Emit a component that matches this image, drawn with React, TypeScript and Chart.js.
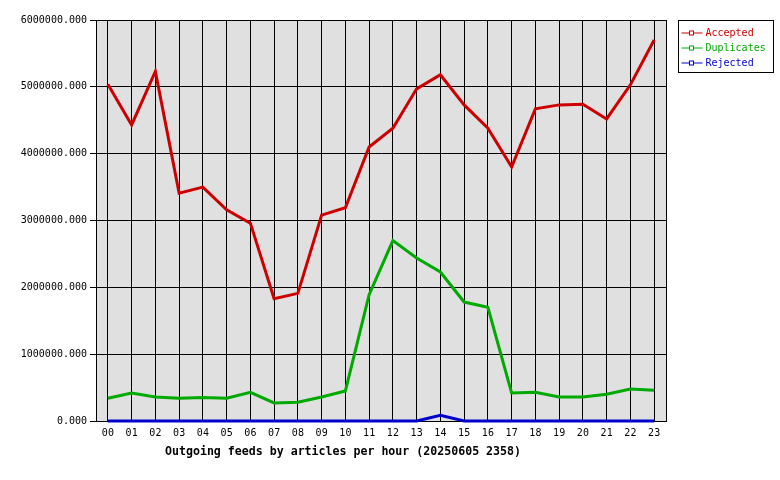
import { useEffect, useRef } from "react";
import Chart from "chart.js/auto";

// hours of the day
const hours = [
    "00", "01", "02", "03", "04", "05", "06", "07", "08", "09", "10", "11",
    "12", "13", "14", "15", "16", "17", "18", "19", "20", "21", "22", "23"
];

const accepted = [
    5040000, 4430000, 5230000, 3410000, 3500000, 3160000, 2960000, 1830000,
    1910000, 3080000, 3190000, 4100000, 4380000, 4970000, 5180000, 4730000,
    4380000, 3800000, 4670000, 4730000, 4740000, 4520000, 5030000, 5700000
];

const duplicates = [
    340000, 420000, 360000, 340000, 350000, 340000, 430000, 270000,
    280000, 360000, 450000, 1890000, 2700000, 2440000, 2230000, 1780000,
    1700000, 420000, 430000, 360000, 360000, 400000, 480000, 460000
];

const rejected = [
    0, 0, 0, 0, 0, 0, 0, 0,
    0, 0, 0, 0, 0, 0, 85000, 0,
    0, 0, 0, 0, 0, 0, 0, 0
];

const yTicks = [0, 1000000, 2000000, 3000000, 4000000, 5000000, 6000000];

const TITLE = "Outgoing feeds by articles per hour (20250605 2358)";
const MONO = "'DejaVu Sans Mono', monospace";

const RED = "#cc0000";
const GREEN = "#00aa00";
const BLUE = "#0000cc";

export default function App() {
    const canvasRef = useRef<HTMLCanvasElement>(null);
    const chartRef = useRef<Chart | null>(null);

    useEffect(() => {
        if (!canvasRef.current) return;
        document.body.style.margin = "0";

        if (chartRef.current) {
            chartRef.current.destroy();
        }

        // gray plot background + black frame (lines are drawn on top of the frame)
        const plotFrame = {
            id: "plotFrame",
            beforeDraw(chart: any) {
                const { ctx, chartArea: a } = chart;
                ctx.save();
                ctx.fillStyle = "#e0e0e0";
                ctx.fillRect(a.left, a.top, a.right - a.left, a.bottom - a.top);
                ctx.restore();
            },
            beforeDatasetsDraw(chart: any) {
                const { ctx, chartArea: a } = chart;
                ctx.save();
                ctx.strokeStyle = "#000";
                ctx.lineWidth = 1;
                ctx.strokeRect(Math.round(a.left) + 0.5, Math.round(a.top) + 0.5,
                    Math.round(a.right - a.left), Math.round(a.bottom - a.top));
                ctx.restore();
            }
        };

        // boxed legend on the right, and the caption below the axis
        const extras = {
            id: "extras",
            afterDraw(chart: any) {
                const { ctx, chartArea: a } = chart;
                const bx = Math.round(a.right) + 12.5;
                const by = Math.round(a.top) + 0.5;
                ctx.save();
                ctx.fillStyle = "#fff";
                ctx.strokeStyle = "#000";
                ctx.lineWidth = 1;
                ctx.fillRect(bx, by, 95, 52);
                ctx.strokeRect(bx, by, 95, 52);
                ctx.font = `10px ${MONO}`;
                ctx.textBaseline = "middle";
                chart.data.datasets.forEach((ds: any, i: number) => {
                    const y = by + 12.5 + i * 15;
                    ctx.strokeStyle = ds.borderColor;
                    ctx.beginPath();
                    ctx.moveTo(bx + 3, y);
                    ctx.lineTo(bx + 24, y);
                    ctx.stroke();
                    ctx.fillStyle = "#fff";
                    ctx.fillRect(bx + 11, y - 2, 4, 4);
                    ctx.strokeRect(bx + 11, y - 2, 4, 4);
                    ctx.fillStyle = ds.borderColor;
                    ctx.fillText(ds.label, bx + 27, y);
                });
                ctx.fillStyle = "#000";
                ctx.font = `bold 11.6px ${MONO}`;
                ctx.textAlign = "center";
                ctx.fillText(TITLE, 343, 452);
                ctx.restore();
            }
        };

        const lineDs = (label: string, data: number[], color: string) => ({
            label,
            data,
            borderColor: color,
            backgroundColor: color,
            borderWidth: 3,
            pointRadius: 0,
            tension: 0,
            clip: false as const,
            borderJoinStyle: "miter" as const,
        });

        chartRef.current = new Chart(canvasRef.current, {
            type: "line",
            data: {
                labels: hours,
                datasets: [
                    lineDs("Accepted", accepted, RED),
                    lineDs("Duplicates", duplicates, GREEN),
                    lineDs("Rejected", rejected, BLUE),
                ],
            },
            options: {
                responsive: false,
                animation: false,
                layout: { padding: { left: 0, top: 20, right: 114, bottom: 0 } },
                plugins: {
                    legend: { display: false },
                    tooltip: { enabled: false },
                    title: { display: false },
                },
                scales: {
                    x: {
                        offset: true,
                        grid: { offset: false, color: "#000", drawTicks: false, lineWidth: 1 },
                        border: { display: true, color: "#000" },
                        ticks: {
                            color: "#000",
                            font: { family: MONO, size: 10 },
                            padding: 6,
                            maxRotation: 0,
                            autoSkip: false,
                        },
                        afterFit(scale: any) { scale.height = 59; },
                    },
                    y: {
                        min: 0,
                        max: 6000000,
                        afterBuildTicks(scale: any) {
                            scale.ticks = yTicks.map(v => ({ value: v }));
                        },
                        grid: { color: "#000", tickLength: 6, lineWidth: 1 },
                        border: { display: true, color: "#000" },
                        ticks: {
                            color: "#000",
                            font: { family: MONO, size: 10 },
                            padding: 3,
                            callback: (v: any) => Number(v).toFixed(3),
                        },
                        afterFit(scale: any) { scale.width = 96; },
                    },
                },
            },
            plugins: [plotFrame, extras],
        });

        return () => {
            if (chartRef.current) {
                chartRef.current.destroy();
                chartRef.current = null;
            }
        };
    }, []);

    return (
        <div style={{ width: 780, height: 480, background: "#fff" }}>
            <canvas ref={canvasRef} width={780} height={480}></canvas>
        </div>
    );
}
